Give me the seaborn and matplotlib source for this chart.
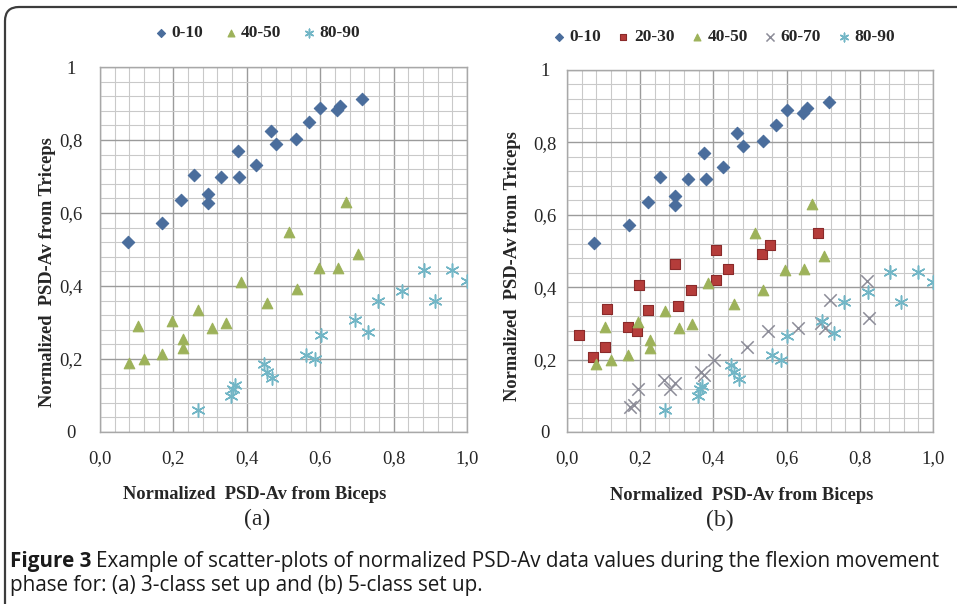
import matplotlib
matplotlib.use("Agg")
import matplotlib.pyplot as plt
import matplotlib.transforms as mtransforms
import seaborn as sns
from matplotlib.patches import FancyBboxPatch
from matplotlib.ticker import MultipleLocator

# data (x = biceps, y = triceps)
x_0_10 = [0.075, 0.170, 0.220, 0.255, 0.295, 0.295, 0.330, 0.375, 0.380, 0.425, 0.465, 0.480,
          0.535, 0.570, 0.600, 0.645, 0.655, 0.715]
y_0_10 = [0.521, 0.572, 0.636, 0.704, 0.652, 0.627, 0.698, 0.770, 0.698, 0.731, 0.825, 0.790,
          0.803, 0.848, 0.889, 0.882, 0.894, 0.912]

x_20_30 = [0.032, 0.070, 0.105, 0.110, 0.168, 0.192, 0.198, 0.221, 0.296, 0.302, 0.340,
           0.408, 0.408, 0.439, 0.532, 0.554, 0.686]
y_20_30 = [0.268, 0.207, 0.236, 0.341, 0.290, 0.280, 0.407, 0.338, 0.463, 0.348, 0.392,
           0.502, 0.421, 0.450, 0.493, 0.516, 0.550]

x_40_50 = [0.078, 0.104, 0.120, 0.168, 0.195, 0.227, 0.227, 0.268, 0.306, 0.342, 0.384,
           0.456, 0.515, 0.536, 0.596, 0.648, 0.670, 0.703]
y_40_50 = [0.189, 0.291, 0.200, 0.214, 0.305, 0.254, 0.231, 0.333, 0.286, 0.298, 0.412,
           0.353, 0.549, 0.392, 0.448, 0.450, 0.631, 0.487]

x_60_70 = [0.173, 0.184, 0.195, 0.264, 0.282, 0.296, 0.366, 0.374, 0.401, 0.492, 0.550,
           0.632, 0.693, 0.705, 0.718, 0.821, 0.826]
y_60_70 = [0.068, 0.074, 0.120, 0.143, 0.120, 0.134, 0.165, 0.158, 0.199, 0.235, 0.279,
           0.286, 0.300, 0.288, 0.364, 0.417, 0.314]

x_80_90 = [0.268, 0.358, 0.363, 0.368, 0.447, 0.456, 0.469, 0.560, 0.585, 0.602, 0.696,
           0.730, 0.757, 0.823, 0.882, 0.913, 0.960, 1.000]
y_80_90 = [0.060, 0.100, 0.118, 0.128, 0.186, 0.165, 0.147, 0.212, 0.200, 0.266, 0.308,
           0.273, 0.358, 0.387, 0.443, 0.358, 0.443, 0.415]

x_ticks = [0.0, 0.2, 0.4, 0.6, 0.8, 1.0]
x_tick_labels = ["0,0", "0,2", "0,4", "0,6", "0,8", "1,0"]
y_ticks = [0.0, 0.2, 0.4, 0.6, 0.8, 1.0]
y_tick_labels = ["0", "0,2", "0,4", "0,6", "0,8", "1"]

STAR = (6, 2, 0)
classes = {
    "0-10":  dict(x=x_0_10,  y=y_0_10,  marker="D", color="#4a6d9c", s=40, edge="#4a6d9c"),
    "20-30": dict(x=x_20_30, y=y_20_30, marker="s", color="#b53c3a", s=44, edge="#8a2a2a"),
    "40-50": dict(x=x_40_50, y=y_40_50, marker="^", color="#9db25a", s=58, edge="#9db25a"),
    "60-70": dict(x=x_60_70, y=y_60_70, marker="x", color="#8c8c98", s=80, edge=None),
    "80-90": dict(x=x_80_90, y=y_80_90, marker=STAR, color="#72b6c6", s=90, edge=None),
}

sns.set_style("white")
plt.rcParams["font.family"] = ["Liberation Serif", "DejaVu Serif"]

fig = plt.figure(figsize=(9.57, 6.04), dpi=100)
W, H = 957, 604


def px_axes(x0, y0, x1, y1):
    return fig.add_axes([x0 / W, 1 - y1 / H, (x1 - x0) / W, (y1 - y0) / H])


ax_a = px_axes(100, 67, 467, 432)
ax_b = px_axes(567, 70, 933, 432)


def draw_panel(ax, names, ypad, xlab_xy, ylab_xy, leg_center, colspace):
    for name in names:
        c = classes[name]
        kw = dict(x=c["x"], y=c["y"], marker=c["marker"], color=c["color"], s=c["s"],
                  label=name, ax=ax, zorder=3)
        if c["edge"] is not None:
            kw.update(edgecolor=c["edge"], linewidth=0.8)
        else:
            kw.update(linewidth=1.1)
        sns.scatterplot(**kw)

    ax.set_xlim(0, 1)
    ax.set_ylim(0, 1)
    ax.xaxis.set_minor_locator(MultipleLocator(0.04))
    ax.yaxis.set_minor_locator(MultipleLocator(0.04))
    ax.set_xticks(x_ticks)
    ax.set_xticklabels(x_tick_labels)
    ax.set_yticks(y_ticks)
    ax.set_yticklabels(y_tick_labels, ha="center")
    ax.tick_params(which="both", length=0, labelsize=13.5)
    ax.tick_params(axis="x", pad=13)
    ax.tick_params(axis="y", pad=ypad)

    ax.grid(which="major", color="#9b9b9b", linewidth=1.0)
    ax.grid(which="minor", color="#c9c9c9", linewidth=0.8)
    ax.set_axisbelow(True)
    for sp in ax.spines.values():
        sp.set_color("#a8a8a8")
        sp.set_linewidth(1.0)

    ax.set_xlabel("Normalized  PSD-Av from Biceps", fontsize=13.3, fontweight="bold")
    ax.set_ylabel("Normalized  PSD-Av from Triceps", fontsize=13.3, fontweight="bold")
    ax.xaxis.set_label_coords(*xlab_xy)
    ax.yaxis.set_label_coords(*ylab_xy)

    handles, labels = ax.get_legend_handles_labels()
    ax.legend(handles, labels, loc="center", bbox_to_anchor=leg_center,
              bbox_transform=fig.transFigure, ncol=len(labels), frameon=False,
              handlelength=0.6, handletextpad=0.3, columnspacing=colspace, markerscale=0.65,
              prop=dict(family=["Liberation Serif"], weight="bold", size=12.5))


draw_panel(ax_a, ["0-10", "40-50", "80-90"], 21, (0.422, -0.148), (-0.12, 0.438),
           (258 / W, 1 - 33 / H), 1.3)
draw_panel(ax_b, ["0-10", "20-30", "40-50", "60-70", "80-90"], 16, (0.478, -0.152),
           (-0.125, 0.459), (724 / W, 1 - 37 / H), 1.0)

fig.text(257 / W, 1 - 519 / H, "(a)", ha="center", va="center", fontsize=17)
fig.text(720 / W, 1 - 520 / H, "(b)", ha="center", va="center", fontsize=17)

# caption
cap_font = ["Open Sans", "DejaVu Sans"]
cap_size = 14.9
t1 = fig.text(10 / W, 1 - 561 / H, "Figure 3", ha="left", va="center", fontsize=cap_size,
              fontweight="bold", family=cap_font, color="#1a1a1a")
fig.canvas.draw()
bb = t1.get_window_extent()
fig.text((bb.x1 + 5) / W, 1 - 561 / H,
         "Example of scatter-plots of normalized PSD-Av data values during the flexion movement",
         ha="left", va="center", fontsize=cap_size, family=cap_font, color="#1a1a1a")
fig.text(10 / W, 1 - 585 / H, "phase for: (a) 3-class set up and (b) 5-class set up.",
         ha="left", va="center", fontsize=cap_size, family=cap_font, color="#1a1a1a")

# rounded outer frame (runs off the right and bottom edges)
frame = FancyBboxPatch((5, -30), 1000, 604 - 7 + 30, boxstyle="round,pad=0,rounding_size=14",
                       transform=mtransforms.IdentityTransform(), facecolor="none",
                       edgecolor="#3c3c3c", linewidth=1.6)
fig.patches.append(frame)

fig.savefig("out.png", dpi=100)
